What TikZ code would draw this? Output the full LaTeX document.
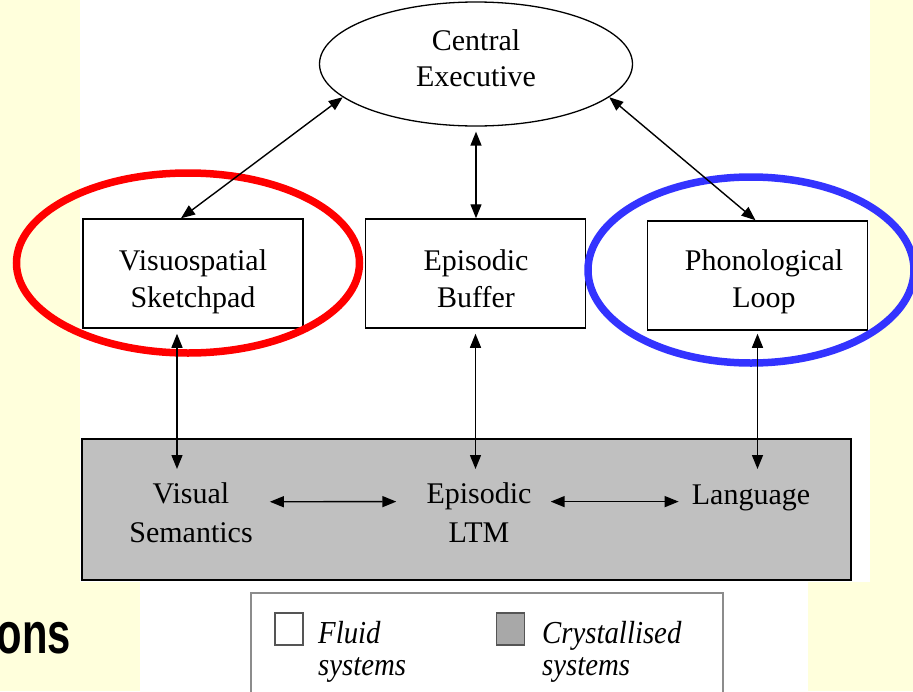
\documentclass[tikz,border=0pt]{standalone}
\usepackage{fontspec}
\setmainfont{Liberation Serif}
\newfontfamily\arialfam{Liberation Sans}
\usetikzlibrary{arrows.meta,shapes.geometric}
\definecolor{bgyellow}{HTML}{FFFFDC}
\definecolor{boxgray}{HTML}{C0C0C0}
\definecolor{ringred}{HTML}{FF0000}
\definecolor{ringblue}{HTML}{3333FF}
\definecolor{legline}{HTML}{8C8C8C}
\definecolor{chkline}{HTML}{555555}
\definecolor{chkfill}{HTML}{A8A8A8}
\begin{document}
\begin{tikzpicture}[x=1pt,y=-1pt,
  lbl/.style={font=\fontsize{30}{36}\selectfont, align=center, text=black, inner sep=0pt, anchor=north},
  lbllow/.style={font=\fontsize{30}{39}\selectfont, align=center, text=black, inner sep=0pt, anchor=north},
  sysbox/.style={draw, line width=1.5pt, minimum width=220pt, minimum height=109pt, inner sep=0pt},
  conn/.style={line width=1.4pt, {Triangle[length=14pt,width=11pt]}-{Triangle[length=14pt,width=11pt]}},
  ring/.style={draw, ellipse, line width=7.5pt, inner sep=0pt},
  chk/.style={draw=chkline, line width=1.5pt, minimum width=28pt, minimum height=32pt, inner sep=0pt},
  legtext/.style={font=\itshape\fontsize{32}{32}\selectfont, align=left, anchor=north west, inner sep=0pt, xscale=0.9, text=black}
]
\useasboundingbox (0,0) rectangle (913,691);
\fill[bgyellow] (0,0) rectangle (913,691);
\fill[white] (80,0) rectangle (870,582);
\fill[white] (140,582) rectangle (808,691);

% crystallised region
\node[draw, fill=boxgray, line width=2pt, minimum width=769pt, minimum height=141pt, inner sep=0pt] (cryst) at (466.5,509.5) {};

% central executive
\node[draw, ellipse, line width=1.3pt, minimum width=313pt, minimum height=124pt, inner sep=0pt] (ce) at (476,64) {};
\node[lbl] (cetext) at (476,29.5) {Central\\Executive};

% fluid boxes
\node[sysbox] (vs) at (193,273.5) {};
\node[sysbox] (eb) at (475.5,273.5) {};
\node[sysbox] (pl) at (757.5,275.5) {};
\node[lbl, font=\fontsize{30}{37}\selectfont] (vstext) at (193,249.5) {Visuospatial\\Sketchpad};
\node[lbl, font=\fontsize{30}{37}\selectfont] (ebtext) at (476,249.5) {Episodic\\Buffer};
\node[lbl, font=\fontsize{30}{37}\selectfont] (pltext) at (764,249.5) {Phonological\\Loop};

% crystallised labels
\node[lbllow] (vsem) at (191,482.5) {Visual\\Semantics};
\node[lbllow] (eltm) at (479,482.5) {Episodic\\LTM};
\node[lbllow] (lang) at (751,484.5) {Language};

% rings
\node[ring, draw=ringred, minimum width=343pt, minimum height=180pt] (redring) at (188,263) {};
\node[ring, draw=ringblue, minimum width=326pt, minimum height=186pt] (bluering) at (751,270) {};

% connectors
\draw[conn] (ce.194) -- ([xshift=-12pt]vs.north);
\draw[conn] (ce.-14) -- ([xshift=-2pt]pl.north);
\draw[conn, shorten <=5pt] (ce.south) -- (ce.south |- eb.north);
\draw[conn, shorten <=5pt, shorten >=13.5pt] ([xshift=-16pt]vs.south) -- ([xshift=-16pt]vs.south |- vsem.north);
\draw[conn, shorten <=5pt, shorten >=13.5pt] (eb.south) -- (eb.south |- eltm.north);
\draw[conn, shorten <=3pt, shorten >=15.5pt] (pl.south) -- (pl.south |- lang.north);
\draw[conn] ([xshift=17pt,yshift=11pt]vsem.east) -- ([xshift=-30pt,yshift=11pt]eltm.west);
\draw[conn, shorten >=13pt] ([xshift=19pt,yshift=11pt]eltm.east) coordinate (ea) -- (ea -| lang.west);

% left cut-off title
\node[font=\arialfam\bfseries\fontsize{58}{58}\selectfont, xscale=0.72, anchor=base east, inner sep=0pt] (ons) at (71,653) {ons};

% legend
\node[draw=legline, line width=1.5pt, minimum width=472pt, minimum height=110pt, anchor=north west, inner sep=0pt] (legend) at (250,592) {};
\node[chk, fill=white] (fluidchk) at (289,629) {};
\node[chk, fill=chkfill] (crystchk) at (510.5,629) {};
\node[legtext] (fluidtext) at (318,621) {Fluid\\systems};
\node[legtext] (crysttext) at (542,621) {Crystallised\\systems};
\end{tikzpicture}
\end{document}
